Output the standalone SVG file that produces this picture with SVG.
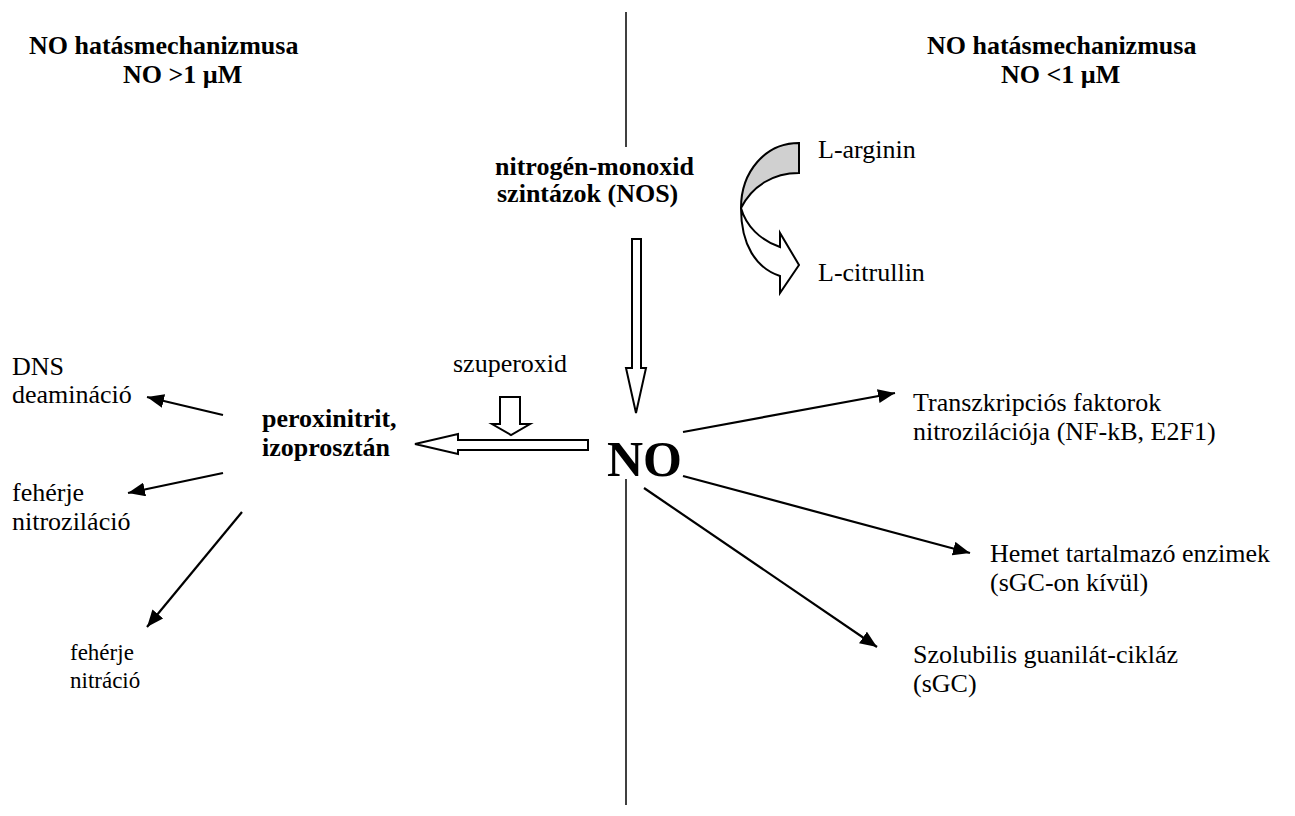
<svg xmlns="http://www.w3.org/2000/svg" width="1295" height="816" viewBox="0 0 1295 816">
<style>
text{font-family:"Liberation Serif","Times New Roman",serif;fill:#000}
.b{font-weight:bold}
.t{font-size:26px}
.s{font-size:23px}
.ln{stroke:#000;stroke-width:2.2;fill:none}
.hol{fill:#fff;stroke:#000;stroke-width:2}
</style>
<defs>
<marker id="ah" markerUnits="userSpaceOnUse" markerWidth="18" markerHeight="14" refX="17" refY="7" orient="auto">
<path d="M0,0 L17,7 L0,14 Z" fill="#000"/>
</marker>
</defs>
<rect width="1295" height="816" fill="#fff"/>

<g id="divider">
<line x1="626" y1="12" x2="626" y2="147" stroke="#000" stroke-width="1.5"/>
<line x1="626" y1="479" x2="626" y2="805" stroke="#000" stroke-width="1.5"/>
</g>

<g id="header-left">
<text class="b t" x="29" y="54">NO hatásmechanizmusa</text>
<text class="b t" x="123" y="83">NO &gt;1 µM</text>
</g>
<g id="header-right">
<text class="b t" x="927" y="54">NO hatásmechanizmusa</text>
<text class="b t" x="1001" y="83">NO &lt;1 µM</text>
</g>

<g id="nos">
<text class="b t" x="495" y="175" font-size="27">nitrogén-monoxid</text>
<text class="b t" x="497" y="202" font-size="27">szintázok (NOS)</text>
</g>

<g id="arginine-cycle">
<path d="M799,143 C765,143 741,172 741,208 C752,186 773,173 799,173 Z" fill="#d0d0d0" stroke="#000" stroke-width="2"/>
<path d="M741,208 C741,245 756,268 780,276 L780,293 L799,265 L780,233 L780,247 C760,240 746,226 741,208 Z" class="hol"/>
<text class="t" x="818" y="158">L-arginin</text>
<text class="t" x="818" y="281">L-citrullin</text>
</g>

<g id="no">
<text class="b" x="607" y="476" font-size="50">NO</text>
</g>

<g id="szuperoxid">
<text class="t" x="453" y="372" font-size="24">szuperoxid</text>
</g>

<g id="peroxinitrit">
<text class="b t" x="262" y="427">peroxinitrit,</text>
<text class="b t" x="262" y="456">izoprosztán</text>
</g>

<g id="dns">
<text class="t" x="12" y="375">DNS</text>
<text class="t" x="12" y="403">deamináció</text>
</g>
<g id="nitrozilacio">
<text class="t" x="12" y="501">fehérje</text>
<text class="t" x="12" y="530">nitroziláció</text>
</g>
<g id="nitracio">
<text class="s" x="70" y="660">fehérje</text>
<text class="s" x="70" y="688">nitráció</text>
</g>

<g id="transzkripcio">
<text class="t" x="913" y="411">Transzkripciós faktorok</text>
<text class="t" x="913" y="440">nitrozilációja (NF-kB, E2F1)</text>
</g>
<g id="hem">
<text class="t" x="990" y="562">Hemet tartalmazó enzimek</text>
<text class="t" x="990" y="591">(sGC-on kívül)</text>
</g>
<g id="sgc">
<text class="t" x="913" y="663">Szolubilis guanilát-cikláz</text>
<text class="t" x="913" y="692">(sGC)</text>
</g>

<g id="connectors">
<path class="hol" d="M632,239 L641,239 L641,368 L646,368 L636,413 L626,368 L632,368 Z"/>
<path class="hol" d="M500,397 L520,397 L520,424 L530,424 L511,435 L492,424 L500,424 Z"/>
<path class="hol" d="M588,440 L588,450 L458,450 L458,454 L415,444 L458,434 L458,440 Z"/>
<line class="ln" x1="683" y1="432" x2="895" y2="393" marker-end="url(#ah)"/>
<line class="ln" x1="683" y1="476" x2="970" y2="553" marker-end="url(#ah)"/>
<line class="ln" x1="644" y1="488" x2="877" y2="647" marker-end="url(#ah)"/>
<line class="ln" x1="223" y1="415" x2="147" y2="397" marker-end="url(#ah)"/>
<line class="ln" x1="223" y1="473" x2="128" y2="493" marker-end="url(#ah)"/>
<line class="ln" x1="242" y1="512" x2="147" y2="627" marker-end="url(#ah)"/>
</g>
</svg>
